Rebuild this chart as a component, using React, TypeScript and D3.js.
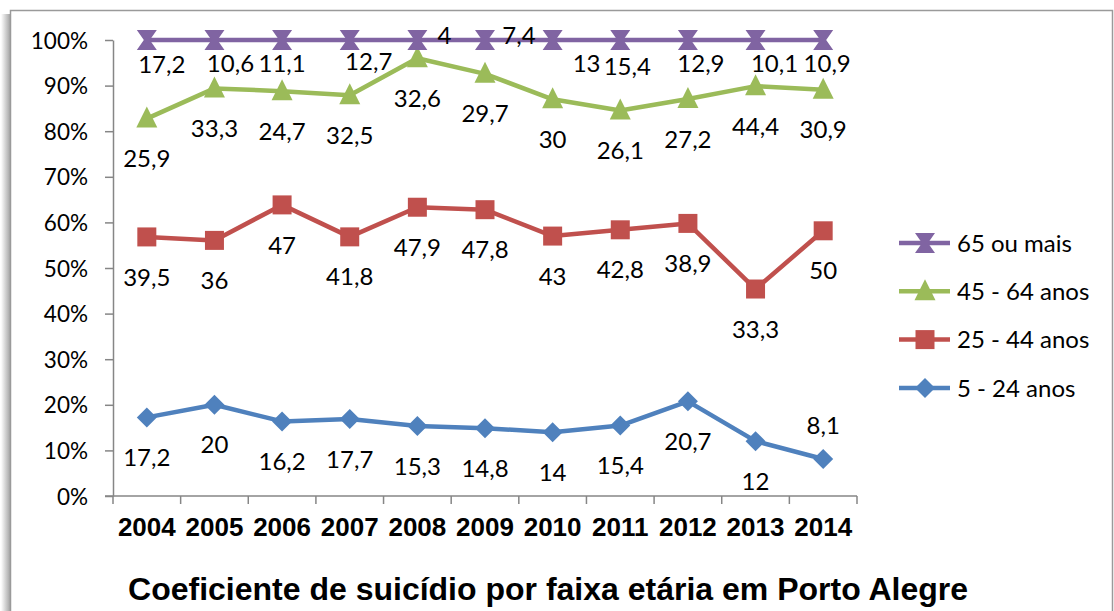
import React, { useEffect, useRef } from "react";
import * as d3 from "d3";

const years = ["2004", "2005", "2006", "2007", "2008", "2009", "2010", "2011", "2012", "2013", "2014"];

const jovens = [17.2, 20, 16.2, 17.7, 15.3, 14.8, 14, 15.4, 20.7, 12, 8.1]; // 5 - 24 anos
const adultos = [39.5, 36, 47, 41.8, 47.9, 47.8, 43, 42.8, 38.9, 33.3, 50]; // 25 - 44 anos
const maduros = [25.9, 33.3, 24.7, 32.5, 32.6, 29.7, 30, 26.1, 27.2, 44.4, 30.9]; // 45 - 64 anos
const idosos = [17.2, 10.6, 11.1, 12.7, 4, 7.4, 13, 15.4, 12.9, 10.1, 10.9]; // 65 ou mais

const yTicks = [0, 0.1, 0.2, 0.3, 0.4, 0.5, 0.6, 0.7, 0.8, 0.9, 1];

const series = [
  { key: "jovens", name: "5 - 24 anos", values: jovens, color: "#4F81BD", marker: "diamond" },
  { key: "adultos", name: "25 - 44 anos", values: adultos, color: "#C0504D", marker: "square" },
  { key: "maduros", name: "45 - 64 anos", values: maduros, color: "#9BBB59", marker: "triangle" },
  { key: "idosos", name: "65 ou mais", values: idosos, color: "#8064A2", marker: "hourglass" },
];

// label nudges (px) where Excel placed them off the default "below" spot
const labelNudge = {
  jovens: { 10: [0, -34] },
  idosos: {
    0: [15, 24], 1: [16, 23], 2: [0, 23], 3: [19, 21], 4: [27, -5], 5: [34, -5],
    6: [34, 23], 7: [7, 26], 8: [13, 23], 9: [19, 23], 10: [4, 23],
  },
};

const markerPath = (type) => {
  if (type === "diamond") return "M0,-10L10,0L0,10L-10,0Z";
  if (type === "square") return "M-9.5,-9.5H9.5V9.5H-9.5Z";
  if (type === "triangle") return "M0,-12L10.5,9L-10.5,9Z";
  return "M-10,-10H10L3,0L10,10H-10L-3,0Z";
};

const App = () => {
  const svgRef = useRef();
  const width = 1114;
  const height = 611;

  useEffect(() => {
    const svg = d3.select(svgRef.current);
    svg.selectAll("*").remove();

    // frame with a soft shadow on the left
    const defs = svg.append("defs");
    const grad = defs.append("linearGradient").attr("id", "shade").attr("x1", 0).attr("x2", 1);
    grad.append("stop").attr("offset", 0).attr("stop-color", "#ffffff");
    grad.append("stop").attr("offset", 1).attr("stop-color", "#a6a6a6");
    svg.append("rect").attr("x", 1).attr("y", 14).attr("width", 9).attr("height", height).attr("fill", "url(#shade)");
    svg.append("rect")
      .attr("x", 10.5).attr("y", 10.5).attr("width", 1102).attr("height", 640)
      .attr("fill", "#fff").attr("stroke", "#9a9a9a").attr("stroke-width", 1.5);

    const table = years.map((yr, i) => {
      const row = { year: yr };
      series.forEach((s) => (row[s.key] = s.values[i]));
      return row;
    });

    const stacked = d3.stack().keys(series.map((s) => s.key)).offset(d3.stackOffsetExpand)(table);

    const x = d3.scalePoint().domain(years).range([113, 857]).padding(0.5);
    const y = d3.scaleLinear().domain([0, 1]).range([496, 40]);

    const axisColor = "#868686";
    const numFont = "Lato, 'Open Sans', sans-serif";

    // y axis
    const yAxis = svg.append("g").attr("transform", "translate(113,0)")
      .call(d3.axisLeft(y).tickValues(yTicks).tickSize(8).tickSizeOuter(0).tickFormat(d3.format(".0%")));
    yAxis.select(".domain").attr("stroke", axisColor).attr("stroke-width", 1.5);
    yAxis.selectAll(".tick line").attr("stroke", axisColor).attr("stroke-width", 1.5);
    yAxis.selectAll(".tick text")
      .attr("x", -25).attr("dy", "0.36em")
      .attr("font-family", numFont).attr("font-size", 22.5).attr("fill", "#000");

    // x axis: ticks sit between categories
    const step = x.step();
    const bounds = d3.range(years.length + 1).map((i) => 113 + i * step);
    const xAxis = svg.append("g");
    xAxis.append("line")
      .attr("x1", 105).attr("x2", 857).attr("y1", 496).attr("y2", 496)
      .attr("stroke", axisColor).attr("stroke-width", 1.5);
    xAxis.selectAll(".xt").data(bounds).enter().append("line")
      .attr("x1", (d) => d).attr("x2", (d) => d).attr("y1", 496).attr("y2", 504)
      .attr("stroke", axisColor).attr("stroke-width", 1.5);
    xAxis.selectAll(".yl").data(years).enter().append("text")
      .attr("x", (d) => x(d)).attr("y", 536)
      .attr("text-anchor", "middle")
      .attr("font-family", "'Liberation Sans', Arial, sans-serif").attr("font-weight", "bold")
      .attr("font-size", 26).text((d) => d);

    // lines, markers, labels
    const line = d3.line().x((d) => x(d.data.year)).y((d) => y(d[1]));

    stacked.forEach((layer, si) => {
      const s = series[si];
      const g = svg.append("g");
      g.append("path").datum(layer).attr("d", line)
        .attr("fill", "none").attr("stroke", s.color).attr("stroke-width", 4.5)
        .attr("stroke-linejoin", "round");
      g.selectAll(".m").data(layer).enter().append("path")
        .attr("transform", (d) => `translate(${x(d.data.year)},${y(d[1])})`)
        .attr("d", markerPath(s.marker)).attr("fill", s.color);
      const nudges = labelNudge[s.key] || {};
      g.selectAll(".l").data(layer).enter().append("text")
        .attr("x", (d, i) => x(d.data.year) + (nudges[i] ? nudges[i][0] : 0))
        .attr("y", (d, i) => y(d[1]) + (nudges[i] ? nudges[i][1] : 40))
        .attr("dy", "0.36em").attr("text-anchor", "middle")
        .attr("font-family", numFont).attr("font-size", 24).attr("fill", "#000")
        .text((d, i) => String(s.values[i]).replace(".", ","));
    });

    // legend
    const legend = svg.append("g").attr("transform", "translate(899,243)");
    const legendOrder = series.slice().reverse();
    legendOrder.forEach((s, i) => {
      const row = legend.append("g").attr("transform", `translate(0,${i * 48.3})`);
      row.append("line").attr("x1", 0).attr("x2", 51).attr("y1", 0).attr("y2", 0)
        .attr("stroke", s.color).attr("stroke-width", 4.5);
      row.append("path").attr("transform", "translate(26,0)").attr("d", markerPath(s.marker)).attr("fill", s.color);
      row.append("text").attr("x", 58).attr("dy", "0.36em")
        .attr("font-family", numFont).attr("font-size", 24).attr("fill", "#000").text(s.name);
    });

    // title
    svg.append("text")
      .attr("x", 548).attr("y", 600).attr("text-anchor", "middle")
      .attr("font-family", "'Liberation Sans', Arial, sans-serif").attr("font-weight", "bold")
      .attr("font-size", 32).text("Coeficiente de suicídio por faixa etária em Porto Alegre");
  }, []);

  return (
    <div style={{ position: "absolute", left: 0, top: 0 }}>
      <svg ref={svgRef} width={width} height={height} style={{ display: "block" }}></svg>
    </div>
  );
};

export default App;
